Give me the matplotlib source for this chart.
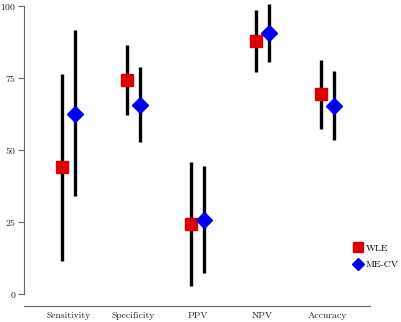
import numpy as np
import matplotlib
matplotlib.use("Agg")
import matplotlib.pyplot as plt

# values
categories = ["Sensitivity", "Specificity", "PPV", "NPV", "Accuracy"]

wle_est = [44, 74, 24.2, 87.8, 69.3]
wle_lo = [11.3, 62, 2.8, 76.8, 57]
wle_hi = [76.3, 86.4, 45.6, 98.5, 81]

mecv_est = [62.5, 65.5, 25.7, 90.4, 65.2]
mecv_lo = [33.8, 52.6, 7.2, 80.3, 53.2]
mecv_hi = [91.6, 78.8, 44.4, 100.4, 77.2]

plt.rcParams['font.family'] = ['cmr10', 'DejaVu Serif']
plt.rcParams['axes.formatter.use_mathtext'] = True

fig = plt.figure(figsize=(4.02, 3.22), dpi=100)
ax = fig.add_axes([0.059, 0.05, 0.861, 0.94])

x = np.arange(1, len(categories) + 1)
off = 0.1

ax.vlines(x - off, wle_lo, wle_hi, color="black", lw=2.4, zorder=1)
ax.vlines(x + off, mecv_lo, mecv_hi, color="black", lw=2.4, zorder=1)
ax.plot(x - off, wle_est, ls="none", marker="s", ms=8.5, color="#dd0000",
        mec="#dd0000", label="WLE", zorder=2)
ax.plot(x + off, mecv_est, ls="none", marker="D", ms=8, color="#0000ee",
        mec="#0000ee", label="ME-CV", zorder=2)

ax.set_xlim(0.31, 5.66)
ax.set_ylim(-4.2, 100.8)

ax.spines['top'].set_visible(False)
ax.spines['right'].set_visible(False)
ax.spines['left'].set_bounds(0, 100)
ax.spines['left'].set_color("#666666")
ax.spines['bottom'].set_color("#666666")
ax.spines['left'].set_linewidth(0.8)
ax.spines['bottom'].set_linewidth(0.8)

ax.set_yticks([0, 25, 50, 75, 100])
ax.set_xticks(x)
ax.set_xticklabels(categories)
ax.tick_params(axis='x', length=0, pad=4, labelsize=7, labelcolor="#222222")
ax.tick_params(axis='y', length=4, width=0.8, color="#666666", pad=1.5,
               labelsize=7, labelcolor="#222222")

ax.legend(loc="center left", bbox_to_anchor=(0.952, 0.163), frameon=False,
          fontsize=7, handletextpad=0.3, handlelength=1.0, labelspacing=0.8,
          markerscale=0.8, borderaxespad=0, borderpad=0)

fig.savefig("out.png", dpi=100)
